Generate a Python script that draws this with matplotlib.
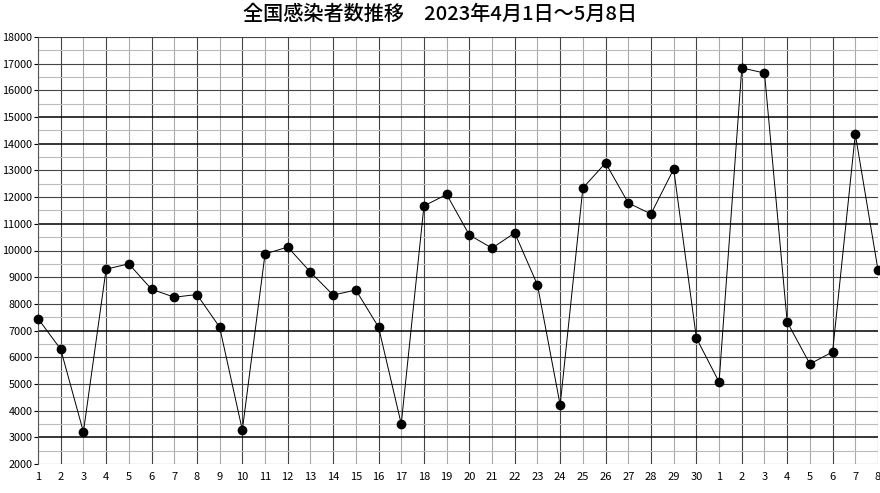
import matplotlib.pyplot as plt
import numpy as np

plt.rcParams['font.family'] = ['Noto Sans CJK JP', 'DejaVu Sans']

# 日付ラベル (4/1〜5/8)
day_labels = [str(d) for d in range(1, 31)] + [str(d) for d in range(1, 9)]
# 感染者数
cases = [7450, 6300, 3200, 9300, 9500, 8550, 8250, 8350, 7130, 3270,
         9870, 10130, 9190, 8330, 8520, 7130, 3500, 11670, 12100, 10580,
         10090, 10660, 8710, 4210, 12340, 13280, 11780, 11370, 13050, 6720,
         5070, 16840, 16650, 7320, 5750, 6200, 14360, 9270]
y_ticks = list(range(2000, 18001, 1000))
bold_rows = [3000, 7000, 11000, 14000, 15000]

fig = plt.figure(figsize=(8.8, 4.93), dpi=100)
ax = fig.add_axes([38 / 880, 1 - 464 / 493, 840 / 880, 427 / 493])

x = np.arange(1, len(cases) + 1)

# 方眼
for i, xv in enumerate(x):
    c = '#444444' if i % 2 else '#aaaaaa'
    ax.axvline(xv, color=c, lw=0.8, zorder=1)
for yv in range(2000, 18001, 500):
    if yv in bold_rows:
        ax.axhline(yv, color='black', lw=1.1, zorder=1)
    elif yv % 1000 == 0:
        ax.axhline(yv, color='#444444', lw=0.8, zorder=1)
    else:
        ax.axhline(yv, color='#bbbbbb', lw=0.8, zorder=1)

ax.plot(x, cases, color='black', lw=0.7, marker='o', markersize=6,
        zorder=3, clip_on=False)

ax.set_xlim(1, len(cases))
ax.set_ylim(2000, 18000)
ax.set_yticks(y_ticks)
ax.set_yticklabels([str(v) for v in y_ticks], fontsize=7.8)
ax.set_xticks(x)
ax.set_xticklabels(day_labels, fontsize=8)
ax.tick_params(axis='x', length=0, pad=6)
ax.tick_params(axis='y', length=3, pad=1)
for s in ['top', 'right', 'bottom']:
    ax.spines[s].set_visible(False)
ax.spines['left'].set_color('#555555')

fig.text(0.5, 1 - 14 / 493, '全国感染者数推移　2023年4月1日～5月8日',
         ha='center', va='center', fontsize=14.5, fontweight='medium')

fig.savefig('out.png', dpi=100)
